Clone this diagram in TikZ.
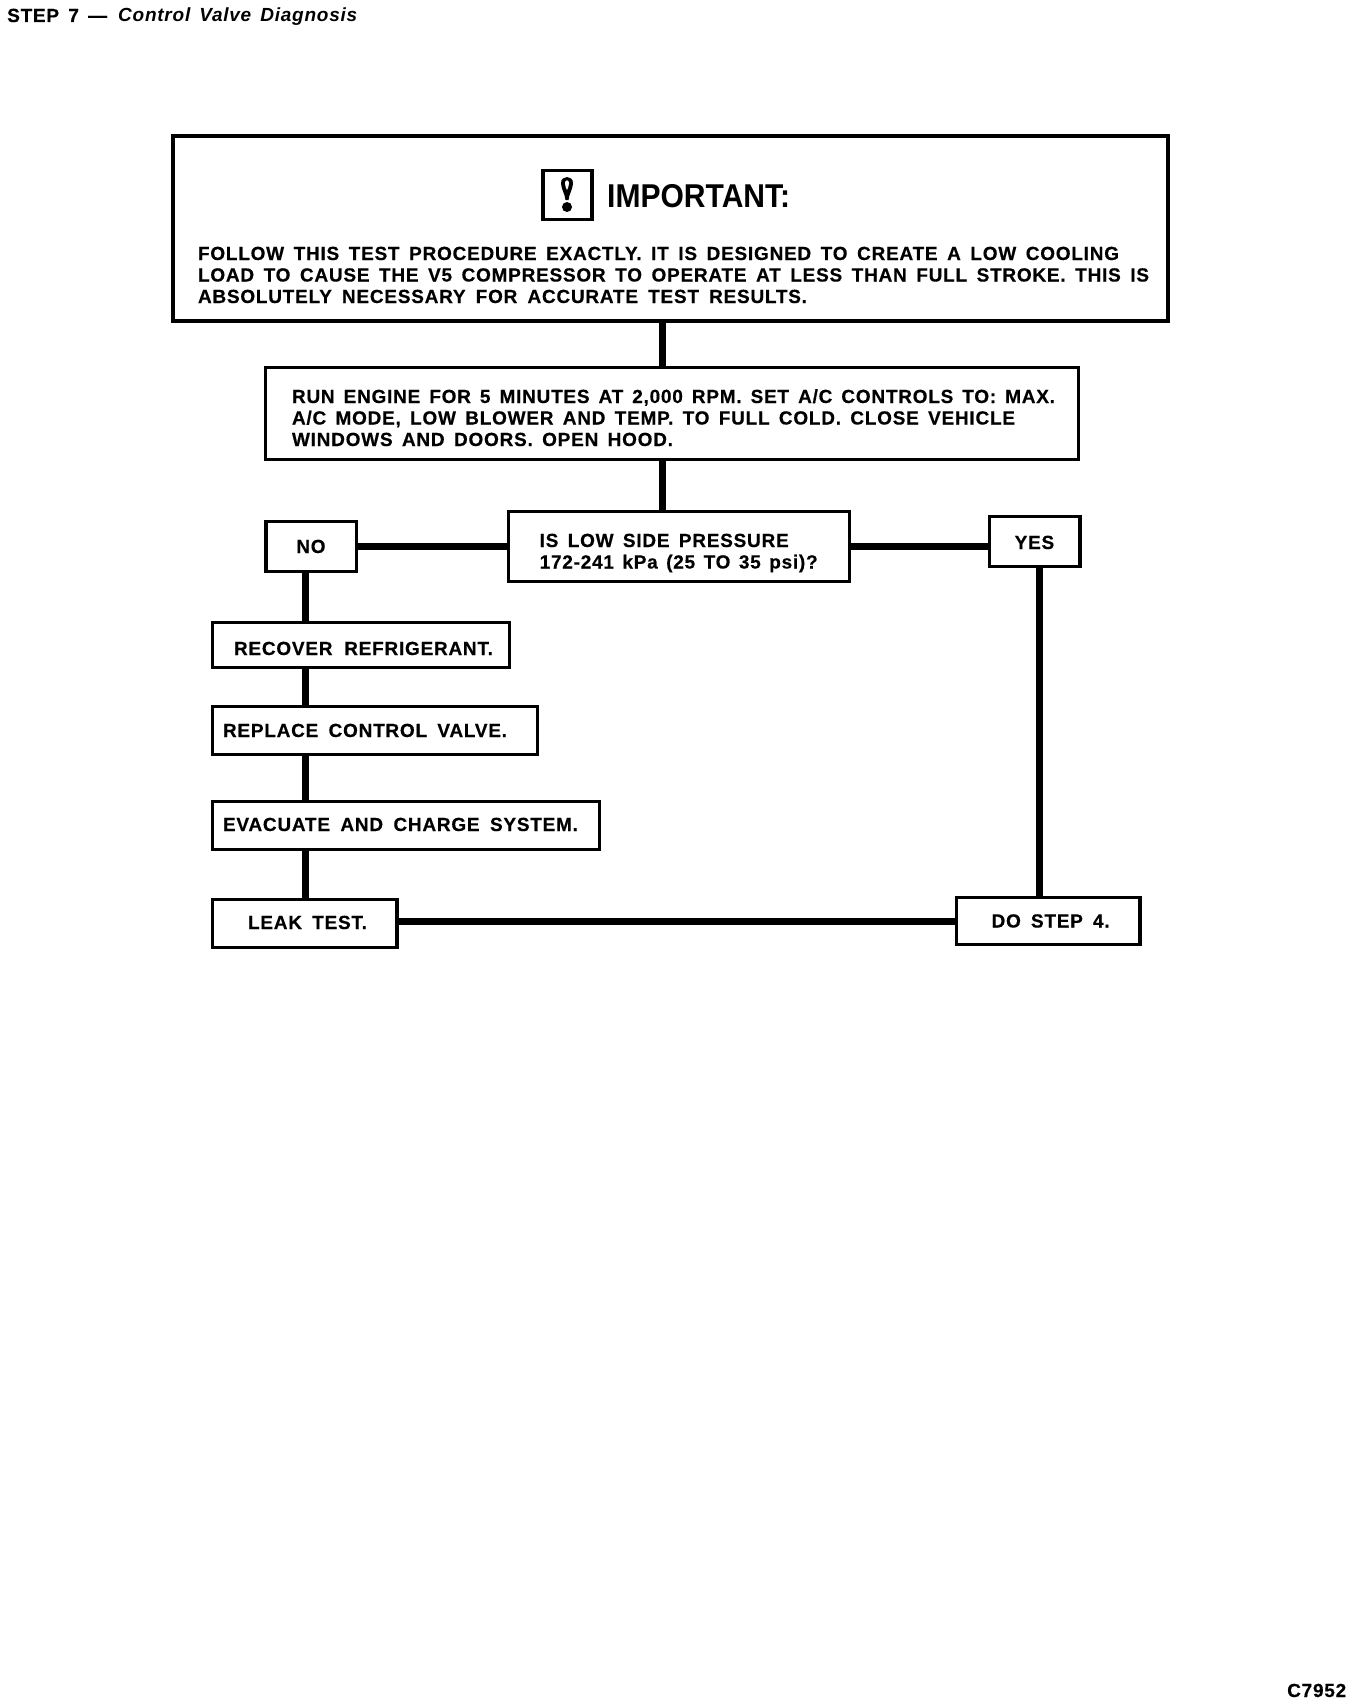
\documentclass[tikz,border=0pt]{standalone}
\usepackage{fontspec}
\setmainfont{Liberation Sans}
\newfontfamily\labfam{Liberation Sans}[LetterSpace=4,BoldFeatures={FakeBold=0.4}]
\newcommand\labfont{\labfam\bfseries\fontsize{19}{21.5}\selectfont}
\newcommand\placetxt[3]{\makebox[0pt][l]{\hspace*{#1pt}\raisebox{#2pt}[0pt][0pt]{\vtop{#3}}}}
\newcommand\fitline[2]{\hbox{\makebox[#1pt][s]{#2}}}
\tikzset{
  flowbox/.style={draw=black,line width=3.2pt,fill=white,inner sep=0pt,font=\labfont},
  link/.style={draw=black,line width=7pt},
  pagetext/.style={inner sep=0pt,anchor=base west,font=\labfont}
}
\begin{document}
\begin{tikzpicture}[x=1pt,y=-1pt]
\useasboundingbox[fill=white] (0,0) rectangle (1360,1702);
\coordinate (trunk) at (662.2,0);
\coordinate (leftx) at (305,0);
\coordinate (rightx) at (1039.7,0);
% page texts
\node[pagetext] (title) at (7,22) {\fitline{100}{STEP 7 —}};
\node[pagetext] (subtitle) at (118,22) {\itshape\fitline{239}{Control Valve Diagnosis}};
\node[pagetext] (code) at (1287,1697) {C7952};
% boxes
\node[flowbox,line width=3.6pt,minimum width=995pt,minimum height=185pt] (main) at (670.3,228.5)
 {\placetxt{-472.3}{-31.5}{\fitline{921}{FOLLOW THIS TEST PROCEDURE EXACTLY. IT IS DESIGNED TO CREATE A LOW COOLING}\fitline{951}{LOAD TO CAUSE THE V5 COMPRESSOR TO OPERATE AT LESS THAN FULL STROKE. THIS IS}\fitline{609}{ABSOLUTELY NECESSARY FOR ACCURATE TEST RESULTS.}}};
\node[flowbox,minimum width=49pt,minimum height=49pt] (icon) at (567.5,195) {};
\fill (561,183) .. controls (561,175) and (573,175) .. (573,183) .. controls (573,189) and (569,194) .. (568.5,200) -- (565.5,200) .. controls (565,194) and (561,189) .. (561,183) -- cycle;
\fill[white] (565,183) .. controls (565,179.5) and (569,179.5) .. (569,183) .. controls (569,186) and (568,188) .. (567,190) .. controls (566,188) and (565,186) .. (565,183) -- cycle;
\fill (567,207) circle (5);
\node[inner sep=0pt,anchor=base west,font=\bfseries\fontsize{33}{36}\selectfont] (important) at (607,207) {\scalebox{0.91}[1]{IMPORTANT:}};
\node[flowbox,minimum width=813pt,minimum height=91.8pt] (run) at (671.6,413.5)
 {\placetxt{-379.6}{10.5}{\fitline{763}{RUN ENGINE FOR 5 MINUTES AT 2,000 RPM. SET A/C CONTROLS TO: MAX.}\fitline{723}{A/C MODE, LOW BLOWER AND TEMP. TO FULL COLD. CLOSE VEHICLE}\fitline{381}{WINDOWS AND DOORS. OPEN HOOD.}}};
\node[flowbox,minimum width=340.6pt,minimum height=69.8pt] (dec) at (678.8,546.5)
 {\placetxt{-139.1}{-0.5}{\fitline{249}{IS LOW SIDE PRESSURE}\fitline{278}{172-241 kPa (25 TO 35 psi)?}}};
\node[flowbox,minimum width=90.3pt,minimum height=49.7pt] (no) at (311.2,546.5)
 {\placetxt{-14.9}{-6.5}{\hbox{NO}}};
\node[flowbox,minimum width=90.7pt,minimum height=49.6pt] (yes) at (1034.7,541.5)
 {\placetxt{-20}{-7.5}{\hbox{YES}}};
\node[flowbox,minimum width=297.6pt,minimum height=44.7pt] (rec) at (360.9,645)
 {\placetxt{-126.9}{-10}{\fitline{259}{RECOVER REFRIGERANT.}}};
\node[flowbox,minimum width=325.2pt,minimum height=47.7pt] (rep) at (374.75,730.4)
 {\placetxt{-151.75}{-6.6}{\fitline{284}{REPLACE CONTROL VALVE.}}};
\node[flowbox,minimum width=387.2pt,minimum height=47.8pt] (eva) at (405.7,825.5)
 {\placetxt{-182.7}{-5.5}{\fitline{355}{EVACUATE AND CHARGE SYSTEM.}}};
\node[flowbox,minimum width=184.8pt,minimum height=47.8pt] (leak) at (304.5,923.5)
 {\placetxt{-56.5}{-5.5}{\fitline{119}{LEAK TEST.}}};
\node[flowbox,minimum width=183.1pt,minimum height=46.7pt] (dostep) at (1048.4,921)
 {\placetxt{-56.8}{-6.5}{\fitline{118}{DO STEP 4.}}};
% connectors
\draw[link] (main.south -| trunk) -- (run.north -| trunk);
\draw[link] (run.south -| trunk) -- (dec.north -| trunk);
\draw[link] (dec.west) -- (dec.west -| no.east);
\draw[link] (dec.east) -- (dec.east -| yes.west);
\draw[link] (no.south -| leftx) -- (rec.north -| leftx);
\draw[link] (rec.south -| leftx) -- (rep.north -| leftx);
\draw[link] (rep.south -| leftx) -- (eva.north -| leftx);
\draw[link] (eva.south -| leftx) -- (leak.north -| leftx);
\draw[link] (dostep.west) -- (dostep.west -| leak.east);
\draw[link] (yes.south -| rightx) -- (dostep.north -| rightx);
\end{tikzpicture}
\end{document}
